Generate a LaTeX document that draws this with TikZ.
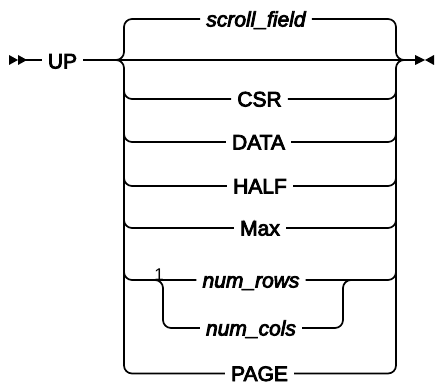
\documentclass[tikz,border=0pt]{standalone}
\usepackage{fontspec}
\setmainfont{Liberation Sans}
\newfontfamily\railfont{Liberation Sans}[BoldFont=Liberation Sans, BoldItalicFont=Liberation Sans Italic, BoldFeatures={FakeBold=4}, BoldItalicFeatures={FakeBold=4}]
\begin{document}
\begin{tikzpicture}[x=1pt,y=-1pt,
  rail/.style={draw, line width=1.7pt, rounded corners=8pt},
  lbl/.style={font=\railfont\bfseries\fontsize{21}{24}\selectfont, inner xsep=6pt, inner ysep=0pt, text height=15pt, text depth=0pt},
  varlbl/.style={lbl, font=\railfont\bfseries\itshape\fontsize{21}{24}\selectfont},
  note/.style={font=\fontsize{17}{17}\selectfont, inner sep=0pt, anchor=south},
  tip/.style={fill=black}]
\useasboundingbox (0,0) rectangle (435,385);
% labels
\node[lbl] (up) at (62.5,61) {UP};
\node[varlbl] (sf) at (256,19) {scroll\_field};
\node[lbl] (csr) at (259.5,99) {CSR};
\node[lbl] (data) at (258.5,142) {DATA};
\node[lbl] (half) at (260,186) {HALF};
\node[lbl] (max) at (260,228) {Max};
\node[varlbl] (rows) at (251,280) {num\_rows};
\node[varlbl] (cols) at (251,328) {num\_cols};
\node[lbl] (page) at (259.5,373.5) {PAGE};
\node[note] (one) at (159,281) {1};
% junction points
\coordinate (st) at (18,60);
\coordinate (inL) at (116,60);
\coordinate (outR) at (404,60);
\coordinate (en) at (415,60);
% start and end markers
\fill[tip] (9,55) -- (18,60) -- (9,65) -- cycle;
\fill[tip] (18,55) -- (27,60) -- (18,65) -- cycle;
\fill[tip] (415,55) -- (425,60) -- (415,65) -- cycle;
\fill[tip] (434,55) -- (425,60) -- (434,65) -- cycle;
% main line
\draw[rail] (st) -- (up.west |- st);
\draw[rail] (up.east |- st) -- (en);
% left side branches
\draw[rail] (inL) -| (124,19) -- (sf.west);
\draw[rail] (inL) -| (124,373.5) -- (page.west);
\draw[rail] (124,80) |- (csr.west);
\draw[rail] (124,120) |- (data.west);
\draw[rail] (124,165) |- (half.west);
\draw[rail] (124,205) |- (max.west);
\draw[rail] (124,255) |- (rows.west);
% right side branches
\draw[rail] (sf.east) -| (396,60) -- (outR);
\draw[rail] (page.east) -| (396,60) -- (outR);
\draw[rail] (csr.east) -| (396,80);
\draw[rail] (data.east) -| (396,120);
\draw[rail] (half.east) -| (396,165);
\draw[rail] (max.east) -| (396,205);
\draw[rail] (rows.east) -| (396,255);
% inner loop
\draw[rail] (150,280) -| (163,328) -- (cols.west);
\draw[rail] (cols.east) -| (343,280) -- (352,280);
\end{tikzpicture}
\end{document}
